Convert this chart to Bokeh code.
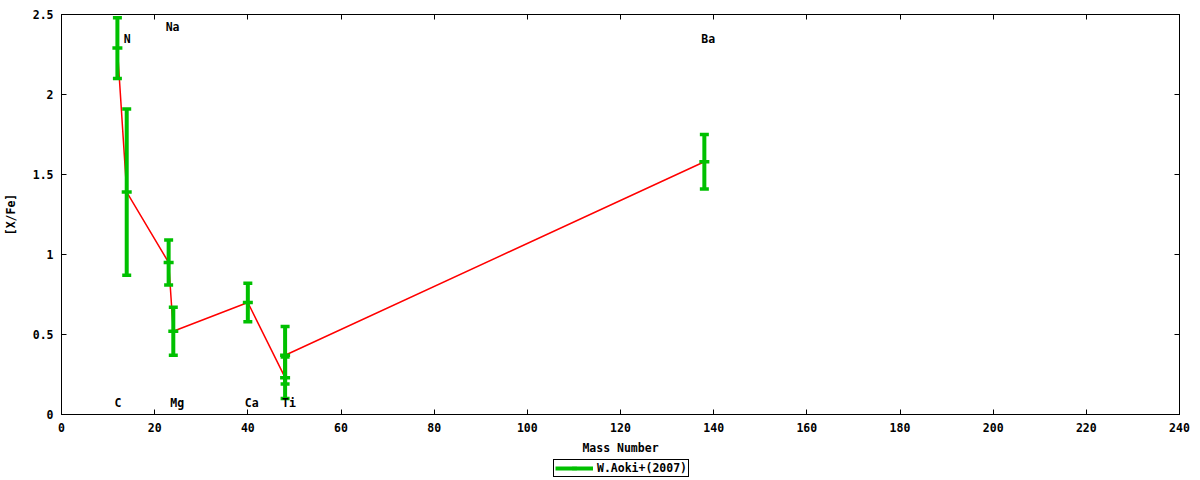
import math
from bokeh.plotting import figure
from bokeh.layouts import column
from bokeh.models import (Range1d, FixedTicker, LinearAxis, Legend, LegendItem,
                          ColumnDataSource)
from bokeh.core.properties import value
from bokeh.embed import file_html
from bokeh.resources import INLINE

# ---- data ----
elements = ["C", "N", "Na", "Mg", "Ca", "Ti", "Ti", "Ba"]
mass = [12, 14, 23, 24, 40, 48, 48, 138]
xfe = [2.29, 1.39, 0.95, 0.52, 0.70, 0.23, 0.37, 1.58]
err = [0.19, 0.52, 0.14, 0.15, 0.12, 0.13, 0.18, 0.17]

label_text = ["C", "N", "Na", "Mg", "Ca", "Ti", "Ba"]
label_mass = [12, 14, 23, 24, 40, 48, 138]
label_y = [0.07, 2.35, 2.425, 0.07, 0.07, 0.07, 2.35]

x_ticks = [0, 20, 40, 60, 80, 100, 120, 140, 160, 180, 200, 220, 240]
y_ticks = [0, 0.5, 1, 1.5, 2, 2.5]
y_tick_labels = ["0", "0.5", "1", "1.5", "2", "2.5"]

series_name = "W.Aoki+(2007)"

lower = [v - e for v, e in zip(xfe, err)]
upper = [v + e for v, e in zip(xfe, err)]

FONT = "DejaVu Sans Mono"
FS = "11.5px"
GREEN = "#00c000"
RED = "#ff0000"

src = ColumnDataSource(dict(x=mass, y=xfe, lo=lower, hi=upper))

p = figure(width=1200, height=458, output_backend="svg",
           toolbar_location=None, x_range=Range1d(0, 240),
           y_range=Range1d(0, 2.5), min_border_left=61, min_border_top=14,
           min_border_right=21, min_border_bottom=44)
p.xgrid.visible = False
p.ygrid.visible = False
p.outline_line_color = "black"
p.outline_line_alpha = 1
p.outline_line_width = 1
p.background_fill_color = "white"
p.border_fill_color = "white"


def style_axis(ax, ticks, show_labels):
    ax.ticker = FixedTicker(ticks=ticks)
    ax.axis_line_color = "black"
    ax.major_tick_line_color = "black"
    ax.major_tick_in = 5
    ax.major_tick_out = 0
    ax.minor_tick_in = 0
    ax.minor_tick_out = 0
    ax.major_label_text_font = FONT
    ax.major_label_text_font_style = "bold"
    ax.major_label_text_color = "black"
    ax.axis_label_text_font = FONT
    ax.axis_label_text_font_style = "bold"
    ax.axis_label_text_font_size = FS
    ax.axis_label_text_color = "black"
    if show_labels:
        ax.major_label_text_font_size = FS
        ax.major_label_standoff = 8
    else:
        ax.major_label_text_font_size = "0px"
        ax.major_label_standoff = 0


xax = p.xaxis[0]
yax = p.yaxis[0]
style_axis(xax, x_ticks, True)
style_axis(yax, y_ticks, True)
yax.major_label_overrides = {t: s for t, s in zip(y_ticks, y_tick_labels)}
xax.axis_label = "Mass Number"
xax.axis_label_standoff = 6
yax.axis_label = "[X/Fe]"
yax.axis_label_standoff = 12

top_ax = LinearAxis()
right_ax = LinearAxis()
style_axis(top_ax, x_ticks, False)
style_axis(right_ax, y_ticks, False)
top_ax.major_label_overrides = {t: "" for t in x_ticks}
right_ax.major_label_overrides = {t: "" for t in y_ticks}
p.add_layout(top_ax, "above")
p.add_layout(right_ax, "right")

# red connecting line
p.line(x="x", y="y", source=src, line_color=RED, line_width=1.5)

# green error bars
p.segment(x0="x", y0="lo", x1="x", y1="hi", source=src,
          line_color=GREEN, line_width=4)
p.scatter(x="x", y="hi", source=src, marker="dash", size=9,
          line_color=GREEN, line_width=3.5)
p.scatter(x="x", y="lo", source=src, marker="dash", size=9,
          line_color=GREEN, line_width=3.5)
p.scatter(x="x", y="y", source=src, marker="dash", size=10,
          line_color=GREEN, line_width=3.5)

# element labels
p.text(x=label_mass, y=label_y, text=label_text, text_font=value(FONT),
       text_font_style="bold", text_font_size=FS, text_align="left",
       text_baseline="middle", x_offset=-3, text_color="black")

# ---- legend strip below the plot ----
lf = figure(width=1200, height=22, output_backend="svg", toolbar_location=None,
            x_range=Range1d(0, 1), y_range=Range1d(0, 1),
            min_border_left=0, min_border_right=0, min_border_top=0,
            min_border_bottom=0)
lf.axis.visible = False
lf.xgrid.visible = False
lf.ygrid.visible = False
lf.outline_line_color = None
lf.background_fill_color = "white"
lf.border_fill_color = "white"

# sample glyphs for the legend key (placed outside the strip's visible range)
leg_src = ColumnDataSource(dict(x=[5], y=[5], x1=[6], y1=[5]))
leg_line = lf.segment(x0="x", y0="y", x1="x1", y1="y1", source=leg_src,
                      line_color=GREEN, line_width=4)
leg_tick = lf.scatter(x="x", y="y", source=leg_src, marker="dash", size=10,
                      angle=math.pi / 2, line_color=GREEN, line_width=3.5)

legend = Legend(items=[LegendItem(label=series_name, renderers=[leg_line, leg_tick])],
                location=(492, 3), orientation="horizontal")
legend.border_line_color = "black"
legend.border_line_width = 1
legend.border_line_alpha = 1
legend.background_fill_color = "white"
legend.background_fill_alpha = 1
legend.label_text_font = FONT
legend.label_text_font_style = "bold"
legend.label_text_font_size = FS
legend.label_text_color = "black"
legend.glyph_width = 38
legend.glyph_height = 12
legend.label_height = 12
legend.label_standoff = 4
legend.padding = 1
legend.spacing = 0
legend.margin = 0
lf.add_layout(legend, "center")

layout = column(p, lf, spacing=0)
open("out.html", "w").write(file_html(layout, INLINE))
